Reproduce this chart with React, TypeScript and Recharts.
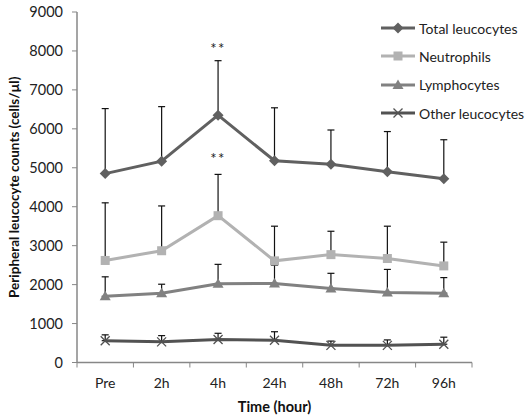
import React from 'react';
import {
  LineChart,
  Line,
  XAxis,
  YAxis,
  ErrorBar,
  Legend,
  ReferenceDot,
} from 'recharts';

const timePoints = ['Pre', '2h', '4h', '24h', '48h', '72h', '96h'];

// mean counts (cells/µl) and upper SD per time point
const totalMean = [4850, 5170, 6350, 5180, 5090, 4900, 4720];
const totalSd = [1670, 1400, 1400, 1360, 880, 1030, 1000];
const neutroMean = [2620, 2870, 3770, 2610, 2770, 2670, 2480];
const neutroSd = [1480, 1150, 1060, 890, 600, 830, 610];
const lymphoMean = [1700, 1780, 2020, 2030, 1900, 1800, 1780];
const lymphoSd = [500, 230, 500, 470, 390, 590, 400];
const otherMean = [560, 530, 590, 570, 440, 440, 470];
const otherSd = [150, 160, 160, 220, 110, 140, 180];

// significance markers (vs Pre)
const totalSig = ['', '', '**', '', '', '', ''];
const neutroSig = ['', '', '**', '', '', '', ''];

const yTicks = [0, 1000, 2000, 3000, 4000, 5000, 6000, 7000, 8000, 9000];

const AXIS = '#878787';
const FONT = 'Lato, "Liberation Sans", sans-serif';
const HALF_BAND = 28.2; // x padding = half a category slot
const TICK_GAP = 16;

const data = timePoints.map((t, i) => ({
  time: t,
  total: totalMean[i],
  totalErr: [0, totalSd[i]],
  neutro: neutroMean[i],
  neutroErr: [0, neutroSd[i]],
  lympho: lymphoMean[i],
  lymphoErr: [0, lymphoSd[i]],
  other: otherMean[i],
  otherErr: [0, otherSd[i]],
}));

type Shape = 'diamond' | 'square' | 'triangle' | 'cross';

const series: { key: string; name: string; color: string; shape: Shape }[] = [
  { key: 'total', name: 'Total leucocytes', color: '#606060', shape: 'diamond' },
  { key: 'neutro', name: 'Neutrophils', color: '#b2b2b2', shape: 'square' },
  { key: 'lympho', name: 'Lymphocytes', color: '#818181', shape: 'triangle' },
  { key: 'other', name: 'Other leucocytes', color: '#525252', shape: 'cross' },
];

function marker(shape: Shape, cx: number, cy: number, color: string, key?: string) {
  switch (shape) {
    case 'diamond':
      return (
        <path key={key} d={`M${cx},${cy - 5.5}L${cx + 5.5},${cy}L${cx},${cy + 5.5}L${cx - 5.5},${cy}Z`} fill={color} />
      );
    case 'square':
      return <rect key={key} x={cx - 4.5} y={cy - 4.5} width={9} height={9} fill={color} />;
    case 'triangle':
      return (
        <path key={key} d={`M${cx},${cy - 5.5}L${cx + 5.5},${cy + 4}L${cx - 5.5},${cy + 4}Z`} fill={color} />
      );
    default:
      return (
        <path
          key={key}
          d={`M${cx - 4.5},${cy - 4.5}L${cx + 4.5},${cy + 4.5}M${cx - 4.5},${cy + 4.5}L${cx + 4.5},${cy - 4.5}`}
          stroke={color}
          strokeWidth={1.3}
          fill="none"
        />
      );
  }
}

const LegendBox = () => (
  <div style={{ fontFamily: FONT, fontSize: 14, color: '#222' }}>
    {series.map((s) => (
      <div key={s.key} style={{ display: 'flex', alignItems: 'center', height: 28.3 }}>
        <svg width={36} height={14} style={{ marginRight: 2 }}>
          <line x1={0} y1={7} x2={34} y2={7} stroke={s.color} strokeWidth={3} />
          {marker(s.shape, 17, 7, s.color)}
        </svg>
        <span>{s.name}</span>
      </div>
    ))}
  </div>
);

// category label plus tick marks on the slot boundaries
const TimeTick = (p: any) => {
  const axisY = p.y - TICK_GAP;
  const last = p.index === timePoints.length - 1;
  return (
    <g>
      <line x1={p.x - HALF_BAND} y1={axisY} x2={p.x - HALF_BAND} y2={axisY + 5} stroke={AXIS} strokeWidth={1} />
      {last && (
        <line x1={p.x + HALF_BAND} y1={axisY} x2={p.x + HALF_BAND} y2={axisY + 5} stroke={AXIS} strokeWidth={1} />
      )}
      <text x={p.x} y={p.y} dy="0.71em" textAnchor="middle" fill="#222" fontSize={14} fontFamily={FONT}>
        {p.payload.value}
      </text>
    </g>
  );
};

const sigStyle = { fill: '#222', fontSize: 15, fontFamily: FONT, letterSpacing: 1.5 };

export default function App() {
  return (
    <div style={{ position: 'absolute', left: 0, top: 0, background: '#fff' }}>
      <LineChart width={530} height={417} data={data} margin={{ top: 12, right: 58, bottom: 0, left: 0 }}>
        <XAxis
          dataKey="time"
          height={54.5}
          interval={0}
          padding={{ left: HALF_BAND, right: HALF_BAND }}
          axisLine={{ stroke: AXIS, strokeWidth: 1.5 }}
          tickLine={false}
          tickSize={0}
          tickMargin={TICK_GAP}
          tick={<TimeTick />}
          label={{
            value: 'Time (hour)',
            position: 'insideBottom',
            offset: 5,
            style: { fill: '#111', fontSize: 14.5, fontWeight: 700, fontFamily: FONT },
          }}
        />
        <YAxis
          width={77}
          domain={[0, 9000]}
          ticks={yTicks}
          interval={0}
          tickSize={5}
          tickMargin={9}
          axisLine={{ stroke: AXIS, strokeWidth: 1.5 }}
          tickLine={{ stroke: AXIS, strokeWidth: 1 }}
          tick={{ fill: '#222', fontSize: 14.5, fontFamily: FONT }}
          label={{
            value: 'Peripheral leucocyte counts (cells/µl)',
            angle: -90,
            position: 'insideLeft',
            offset: 14,
            style: { textAnchor: 'middle', fill: '#111', fontSize: 13.5, fontWeight: 700, fontFamily: FONT },
          }}
        />
        {/* drawn bottom-up so upper series' markers sit on top */}
        {[...series].reverse().map((s) => (
          <Line
            key={s.key}
            dataKey={s.key}
            name={s.name}
            stroke={s.color}
            strokeWidth={3}
            isAnimationActive={false}
            activeDot={false}
            dot={(p: any) => marker(s.shape, p.cx, p.cy, s.color, `${s.key}-${p.index}`)}
          >
            <ErrorBar dataKey={`${s.key}Err`} direction="y" width={3.5} stroke="#111" strokeWidth={1.2} />
          </Line>
        ))}
        {totalSig.map((sig, i) =>
          sig ? (
            <ReferenceDot
              key={`ts-${i}`}
              x={timePoints[i]}
              y={totalMean[i] + totalSd[i]}
              r={0}
              stroke="none"
              label={{ value: sig, position: 'top', offset: 7, style: sigStyle }}
            />
          ) : null
        )}
        {neutroSig.map((sig, i) =>
          sig ? (
            <ReferenceDot
              key={`ns-${i}`}
              x={timePoints[i]}
              y={neutroMean[i] + neutroSd[i]}
              r={0}
              stroke="none"
              label={{ value: sig, position: 'top', offset: 10, style: sigStyle }}
            />
          ) : null
        )}
        <Legend
          layout="vertical"
          align="center"
          verticalAlign="middle"
          wrapperStyle={{ top: 14, left: 381, width: 149 }}
          content={() => <LegendBox />}
        />
      </LineChart>
    </div>
  );
}
